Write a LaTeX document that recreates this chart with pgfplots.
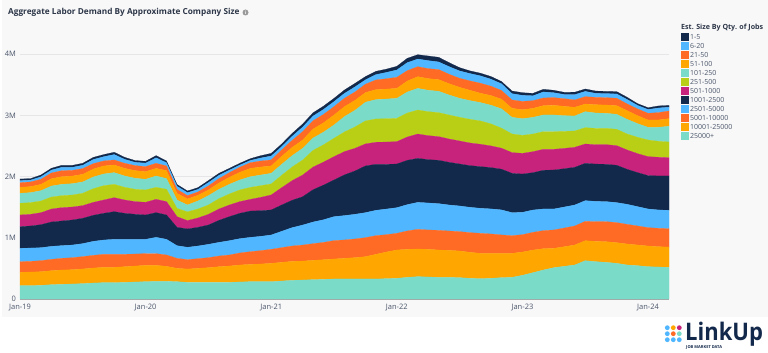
\documentclass[border=0pt]{standalone}
\usepackage{fontspec}
\setmainfont{Open Sans}
\usepackage{pgfplots}
\usepackage{pgfplotstable}
\pgfplotsset{compat=1.18}
\definecolor{cnavy}{HTML}{13294B}
\definecolor{cblue}{HTML}{4FB6FF}
\definecolor{cred}{HTML}{FF6A24}
\definecolor{camber}{HTML}{FFA600}
\definecolor{cteal}{HTML}{7ADCC8}
\definecolor{colive}{HTML}{B9CF16}
\definecolor{cmag}{HTML}{C8237C}
\definecolor{cpanel}{HTML}{F8F8F9}
\definecolor{cgrid}{HTML}{E6E6E8}
\definecolor{ctext}{HTML}{4A5568}
\definecolor{ctitle}{HTML}{2D3748}
\pgfplotstableread{
m a b c d e f g h i j k l
0 218 218 174 218 354 191 191 163 98 76 33 27
1 218 223 174 218 360 191 191 163 98 76 30 25
2 223 223 180 212 376 196 191 169 103 82 41 30
3 234 229 185 212 398 212 196 180 120 93 47 30
4 240 234 191 207 403 218 196 185 125 98 55 33
5 245 234 196 207 409 212 196 185 125 93 49 33
6 251 240 202 212 414 207 202 185 125 93 54 33
7 261 245 207 229 425 212 223 191 131 87 68 35
8 267 251 212 234 436 218 234 191 131 82 69 35
9 267 251 212 245 452 229 218 191 125 82 88 38
10 272 256 202 245 425 218 207 185 125 82 65 33
11 278 261 196 240 409 207 202 180 125 82 52 30
12 283 267 191 234 398 207 202 174 125 82 57 30
13 289 261 191 267 403 218 196 185 125 82 90 36
14 289 245 185 256 398 218 202 174 131 76 51 30
15 283 218 163 207 300 174 136 136 109 65 51 30
16 272 218 153 202 300 136 142 114 98 54 48 28
17 272 229 158 207 305 153 147 131 93 54 41 30
18 272 240 163 218 316 174 153 153 93 65 55 33
19 272 256 174 223 360 185 169 153 103 71 54 33
20 272 267 180 234 392 191 180 158 114 76 41 30
21 278 278 196 234 414 191 191 163 125 82 36 30
22 283 283 207 234 430 191 196 174 136 93 36 30
23 283 289 218 234 419 218 191 174 131 98 49 38
24 283 300 229 234 409 245 180 174 120 98 64 44
25 294 305 240 267 430 283 202 180 131 103 54 44
26 305 310 251 300 447 321 223 185 136 114 66 48
27 310 310 261 327 463 354 245 191 136 136 75 50
28 316 316 272 354 528 370 272 202 147 136 76 54
29 321 321 283 370 566 376 283 207 153 136 82 54
30 327 327 300 392 599 381 300 218 163 136 82 54
31 327 338 300 398 665 381 321 251 163 136 80 56
32 327 349 305 403 708 370 349 272 163 136 83 58
33 327 365 310 409 763 360 376 305 158 136 71 54
34 327 403 305 414 752 360 381 316 163 158 87 54
35 332 436 283 419 730 365 381 321 163 169 103 54
36 338 463 272 419 714 365 381 327 163 180 120 60
37 354 458 300 430 724 381 392 343 180 169 131 71
38 365 452 321 441 719 398 392 354 191 163 125 71
39 360 452 316 441 708 392 392 349 191 163 131 76
40 354 447 321 436 708 387 392 349 191 163 125 76
41 354 441 316 425 697 381 392 327 185 153 125 65
42 349 436 316 419 686 376 387 310 180 147 120 54
43 338 425 321 414 681 370 387 305 169 153 120 44
44 332 414 327 409 681 365 381 300 153 163 120 44
45 338 409 316 409 675 354 360 305 158 153 114 44
46 349 398 300 409 665 343 327 316 158 142 109 38
47 354 392 289 376 643 338 305 272 147 136 103 44
48 387 381 283 365 626 338 294 272 147 136 98 44
49 430 370 289 365 610 343 289 272 147 125 80 40
50 474 349 294 354 632 343 289 272 153 125 98 44
51 512 316 300 343 637 338 289 272 158 125 80 40
52 534 321 305 343 626 332 278 256 153 125 68 36
53 556 327 310 343 616 327 267 245 142 120 86 40
54 626 327 316 338 610 316 267 261 125 120 86 40
55 610 332 321 332 610 316 267 251 136 120 65 38
56 599 338 327 327 610 321 267 245 136 120 65 38
57 583 338 327 327 610 321 267 245 142 120 71 38
58 556 343 321 327 572 316 261 240 142 109 73 36
59 545 338 310 316 556 310 267 223 131 109 57 30
60 528 338 300 305 545 310 272 207 120 109 62 30
61 523 332 300 300 556 305 261 229 120 120 75 34
62 517 332 300 300 561 300 256 256 125 125 62 30
}\sizedata
\newcommand{\layer}[2]{\addplot[fill=#2,draw=#2,line width=0.2pt] table[x=m,y=#1]{\sizedata} \closedcycle;}
\begin{document}
\begin{tikzpicture}[x=1pt,y=1pt]
\useasboundingbox (0,0) rectangle (768,353);
\path[fill=white] (0,0) rectangle (768,353);
\fill[cpanel] (2,36) rectangle (768,353);
\node[anchor=west,text=ctitle,font=\fontsize{8.25}{10}\selectfont\bfseries,inner sep=0] at (8,341) {Aggregate Labor Demand By Approximate Company Size};
\fill[gray!80] (245.5,340.5) circle (3);
\node[text=white,font=\fontsize{4.5}{5}\selectfont\bfseries,inner sep=0] at (245.5,340.5) {i};
\begin{axis}[
  at={(20pt,54pt)},anchor=south west,
  width=649pt,height=244.8pt,scale only axis,
  stack plots=y,
  xmin=0,xmax=62,ymin=0,ymax=4000,
  xtick={0,12,24,36,48,60},
  xticklabels={Jan-19,Jan-20,Jan-21,Jan-22,Jan-23,Jan-24},
  ytick={0,1000,2000,3000,4000},
  yticklabels={0,1M,2M,3M,4M},
  ymajorgrids,
  grid style={cgrid,line width=0.6pt},
  axis x line*=bottom,axis y line*=left,
  y axis line style={draw=none},
  x axis line style={draw=gray!70,-},
  tick style={draw=none},
  major tick length=0pt,
  tick label style={text=ctext,font=\fontsize{7.5}{9}\selectfont},
  xticklabel style={yshift=-1.5pt},
  yticklabel style={xshift=-0.5pt},
  clip=false,
  reverse legend,
  legend cell align=left,
  legend style={at={(1.0185,1.0885)},anchor=north west,draw=none,fill=none,
    inner sep=0pt,outer sep=0pt,row sep=0pt,text=ctext,
    font=\fontsize{7}{8}\selectfont,
    nodes={inner ysep=0.5pt,inner xsep=2pt,text height=6pt,text depth=2pt}},
  legend image code/.code={\fill[#1] (0pt,-3.5pt) rectangle (7pt,3.5pt);},
]
\layer{a}{cteal}
\layer{b}{camber}
\layer{c}{cred}
\layer{d}{cblue}
\layer{e}{cnavy}
\layer{f}{cmag}
\layer{g}{colive}
\layer{h}{cteal}
\layer{i}{camber}
\layer{j}{cred}
\layer{k}{cblue}
\layer{l}{cnavy}
\legend{25000+,10001-25000,5001-10000,2501-5000,1001-2500,501-1000,251-500,101-250,51-100,21-50,6-20,1-5}
\end{axis}
\node[anchor=west,text=ctitle,font=\fontsize{7.1}{8}\selectfont\bfseries,inner sep=0] at (681,325.5) {Est. Size By Qty. of Jobs};
\foreach \px/\py/\c in {667.3/25.3/cblue,673.3/25.3/camber,679.3/25.3/cmag,667.3/19.3/cblue,673.3/19.3/cred,679.3/19.3/cteal,667.3/13.3/cblue,673.3/13.3/cblue,679.3/13.3/cblue}
  \fill[\c] (\px,\py) circle (2.4);
\node[anchor=west,text=cnavy,font=\fontsize{22}{24}\selectfont\bfseries,inner sep=0,yscale=1.1] at (685,19) {LinkUp};
\node[anchor=west,text=cnavy,font=\fontsize{4}{5}\selectfont\bfseries,inner sep=0] at (686,5.5) {JOB MARKET DATA};
\end{tikzpicture}
\end{document}
